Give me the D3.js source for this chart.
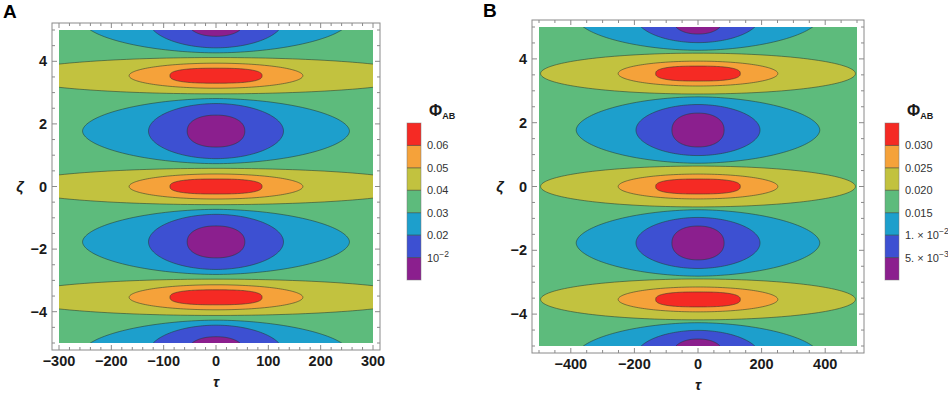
<!DOCTYPE html>
<html>
<head>
<meta charset="utf-8">
<script src="https://cdn.jsdelivr.net/npm/d3@7"></script>
<style>
  body { margin: 0; background: #fff; }
  svg { display: block; font-family: "Liberation Sans", Arial, sans-serif; }
</style>
</head>
<body>
<svg id="chart" width="948" height="394"></svg>
<script>
// colour bands, lowest to highest level
const bandColors = ['#8b1f8e', '#3d50d2', '#1d9fcc', '#5dbb7c', '#c2c23f', '#f5a23a', '#f52a24'];

// centres (zeta) of the maxima and minima, tau = 0
const peakZeta = [-3.54, 0, 3.54];
const troughZeta = [-5.31, -1.77, 1.77, 5.31];

// half extents [tau, zeta] of the closed contours, outer -> inner
const peakA = [[390, 0.58], [166, 0.40], [88, 0.24]];
const troughA = [[255, 1.04], [129, 0.88], [55, 0.51]];
const peakB = [[495, 0.64], [251, 0.39], [133, 0.235]];
const troughB = [[383, 1.04], [195, 0.80], [82, 0.53]];

// tick labels
const tauTicksA = [-300, -200, -100, 0, 100, 200, 300];
const tauTicksB = [-400, -200, 0, 200, 400];
const zetaTicks = [-4, -2, 0, 2, 4];
const legendA = [['10', '−2'], ['0.02'], ['0.03'], ['0.04'], ['0.05'], ['0.06']];
const legendB = [['5. × 10', '−3'], ['1. × 10', '−2'], ['0.015'], ['0.020'], ['0.025'], ['0.030']];

// drawing style for the outlines (superellipse exponent), outer -> inner
const peakShape = [2, 2, 2.6];
const troughShape = [1.85, 1.95, 2.2];

const svg = d3.select('#chart');
const lineColor = 'rgba(40,55,45,0.6)';

const panels = [
    { id: 'A', fill: [59, 373, 30, 343], tau: [-300, 300], tauTicks: tauTicksA, tauMinor: 20,
      peaks: peakA, troughs: troughA, legend: legendA, bar: 407, letter: [3, 18] },
    { id: 'B', fill: [539, 857, 27, 346], tau: [-500, 500], tauTicks: tauTicksB, tauMinor: 50,
      peaks: peakB, troughs: troughB, legend: legendB, bar: 885, letter: [483, 17] }
];

const angles = d3.range(0, 360, 2).map(a => a * Math.PI / 180);
function outline(t0, z0, a, b, p) {
    return angles.map(th => {
        const c = Math.cos(th), s = Math.sin(th);
        return [t0 + a * Math.sign(c) * Math.pow(Math.abs(c), 2 / p),
                z0 + b * Math.sign(s) * Math.pow(Math.abs(s), 2 / p)];
    });
}

panels.forEach(cfg => {
    const [x0, x1, y0, y1] = cfg.fill;
    const x = d3.scaleLinear().domain(cfg.tau).range([x0, x1]);
    const y = d3.scaleLinear().domain([-5, 5]).range([y1, y0]);
    const g = svg.append('g');

    // clip to the plot range
    svg.append('clipPath').attr('id', 'clip' + cfg.id)
        .append('rect').attr('x', x0).attr('y', y0).attr('width', x1 - x0).attr('height', y1 - y0);

    const plot = g.append('g').attr('clip-path', `url(#clip${cfg.id})`);
    plot.append('rect')
        .attr('x', x0).attr('y', y0).attr('width', x1 - x0).attr('height', y1 - y0)
        .attr('fill', bandColors[3]);

    const line = d3.line().x(d => x(d[0])).y(d => y(d[1])).curve(d3.curveLinearClosed);

    const shapes = [];
    peakZeta.forEach(z => cfg.peaks.forEach((e, i) =>
        shapes.push({ z, a: e[0], b: e[1], p: peakShape[i], band: 4 + i })));
    troughZeta.forEach(z => cfg.troughs.forEach((e, i) =>
        shapes.push({ z, a: e[0], b: e[1], p: troughShape[i], band: 2 - i })));

    plot.selectAll('path.level')
        .data(shapes)
        .enter().append('path')
        .attr('class', 'level')
        .attr('d', d => line(outline(0, d.z, d.a, d.b, d.p)))
        .attr('fill', d => bandColors[d.band])
        .attr('stroke', lineColor)
        .attr('stroke-width', 0.9);

    // frame
    const fx0 = x0 - 7, fx1 = x1 + 7, fy0 = y0 - 7, fy1 = y1 + 7;
    g.append('rect')
        .attr('x', fx0).attr('y', fy0).attr('width', fx1 - fx0).attr('height', fy1 - fy0)
        .attr('fill', 'none').attr('stroke', '#8a8a8a').attr('stroke-width', 1);

    const ticks = g.append('g').attr('stroke', '#8a8a8a').attr('stroke-width', 1);
    const tauMinor = d3.range(cfg.tau[0], cfg.tau[1] + 1e-6, cfg.tauMinor)
        .filter(v => !cfg.tauTicks.includes(v));
    const zetaMinor = d3.range(-5, 5.0001, 0.5).filter(v => !zetaTicks.includes(v));

    [[cfg.tauTicks, 5], [tauMinor, 3]].forEach(([vals, len]) => {
        vals.forEach(v => {
            ticks.append('line').attr('x1', x(v)).attr('x2', x(v)).attr('y1', fy1).attr('y2', fy1 - len);
            ticks.append('line').attr('x1', x(v)).attr('x2', x(v)).attr('y1', fy0).attr('y2', fy0 + len);
        });
    });
    [[zetaTicks, 5], [zetaMinor, 3]].forEach(([vals, len]) => {
        vals.forEach(v => {
            ticks.append('line').attr('y1', y(v)).attr('y2', y(v)).attr('x1', fx0).attr('x2', fx0 + len);
            ticks.append('line').attr('y1', y(v)).attr('y2', y(v)).attr('x1', fx1).attr('x2', fx1 - len);
        });
    });

    // tick labels
    g.selectAll('text.xt')
        .data(cfg.tauTicks)
        .enter().append('text')
        .attr('x', d => x(d)).attr('y', fy1 + 16)
        .attr('text-anchor', 'middle')
        .attr('font-size', 14.5).attr('font-weight', 'bold').attr('fill', '#1a1a1a')
        .text(d => d < 0 ? '−' + Math.abs(d) : d);

    g.selectAll('text.yt')
        .data(zetaTicks)
        .enter().append('text')
        .attr('x', fx0 - 5).attr('y', d => y(d) + 5)
        .attr('text-anchor', 'end')
        .attr('font-size', 14.5).attr('font-weight', 'bold').attr('fill', '#1a1a1a')
        .text(d => d < 0 ? '−' + Math.abs(d) : d);

    // axis titles
    g.append('text')
        .attr('x', (x0 + x1) / 2).attr('y', fy1 + 37)
        .attr('text-anchor', 'middle')
        .attr('font-size', 15).attr('font-style', 'italic').attr('font-weight', 'bold')
        .attr('fill', '#1a1a1a')
        .text('τ');
    g.append('text')
        .attr('x', fx0 - 32).attr('y', y(0) + 5)
        .attr('text-anchor', 'middle')
        .attr('font-size', 15).attr('font-style', 'italic').attr('font-weight', 'bold')
        .attr('fill', '#1a1a1a')
        .text('ζ');

    // panel letter
    g.append('text')
        .attr('x', cfg.letter[0]).attr('y', cfg.letter[1])
        .attr('font-size', 19).attr('font-weight', 'bold').attr('fill', '#000')
        .text(cfg.id);

    // colour bar
    const cb = d3.scaleLinear().domain([0, 7]).range([280, 123]);
    const bar = g.append('g');
    bar.selectAll('rect')
        .data(bandColors)
        .enter().append('rect')
        .attr('x', cfg.bar).attr('width', 14)
        .attr('y', (d, i) => cb(i + 1)).attr('height', (d, i) => cb(i) - cb(i + 1))
        .attr('fill', d => d);
    bar.selectAll('line')
        .data(d3.range(1, 7))
        .enter().append('line')
        .attr('x1', cfg.bar).attr('x2', cfg.bar + 14)
        .attr('y1', d => cb(d)).attr('y2', d => cb(d))
        .attr('stroke', lineColor).attr('stroke-width', 1);
    bar.append('rect')
        .attr('x', cfg.bar).attr('y', cb(7)).attr('width', 14).attr('height', cb(0) - cb(7))
        .attr('fill', 'none').attr('stroke', 'rgba(120,120,120,0.6)').attr('stroke-width', 0.8);

    const lab = bar.selectAll('text.cl')
        .data(cfg.legend)
        .enter().append('text')
        .attr('x', cfg.bar + 20).attr('y', (d, i) => cb(i + 1) + 4)
        .attr('font-size', 11).attr('fill', '#333');
    lab.append('tspan').text(d => d[0]);
    lab.filter(d => d.length > 1).append('tspan')
        .attr('dy', -5).attr('font-size', 8.5).text(d => d[1]);

    const title = bar.append('text')
        .attr('x', cfg.bar + 22).attr('y', 116)
        .attr('font-weight', 'bold').attr('fill', '#1a1a1a');
    title.append('tspan').attr('font-size', 16).text('Φ');
    title.append('tspan').attr('font-size', 9).attr('dy', 3).text('AB');
});
</script>
</body>
</html>
